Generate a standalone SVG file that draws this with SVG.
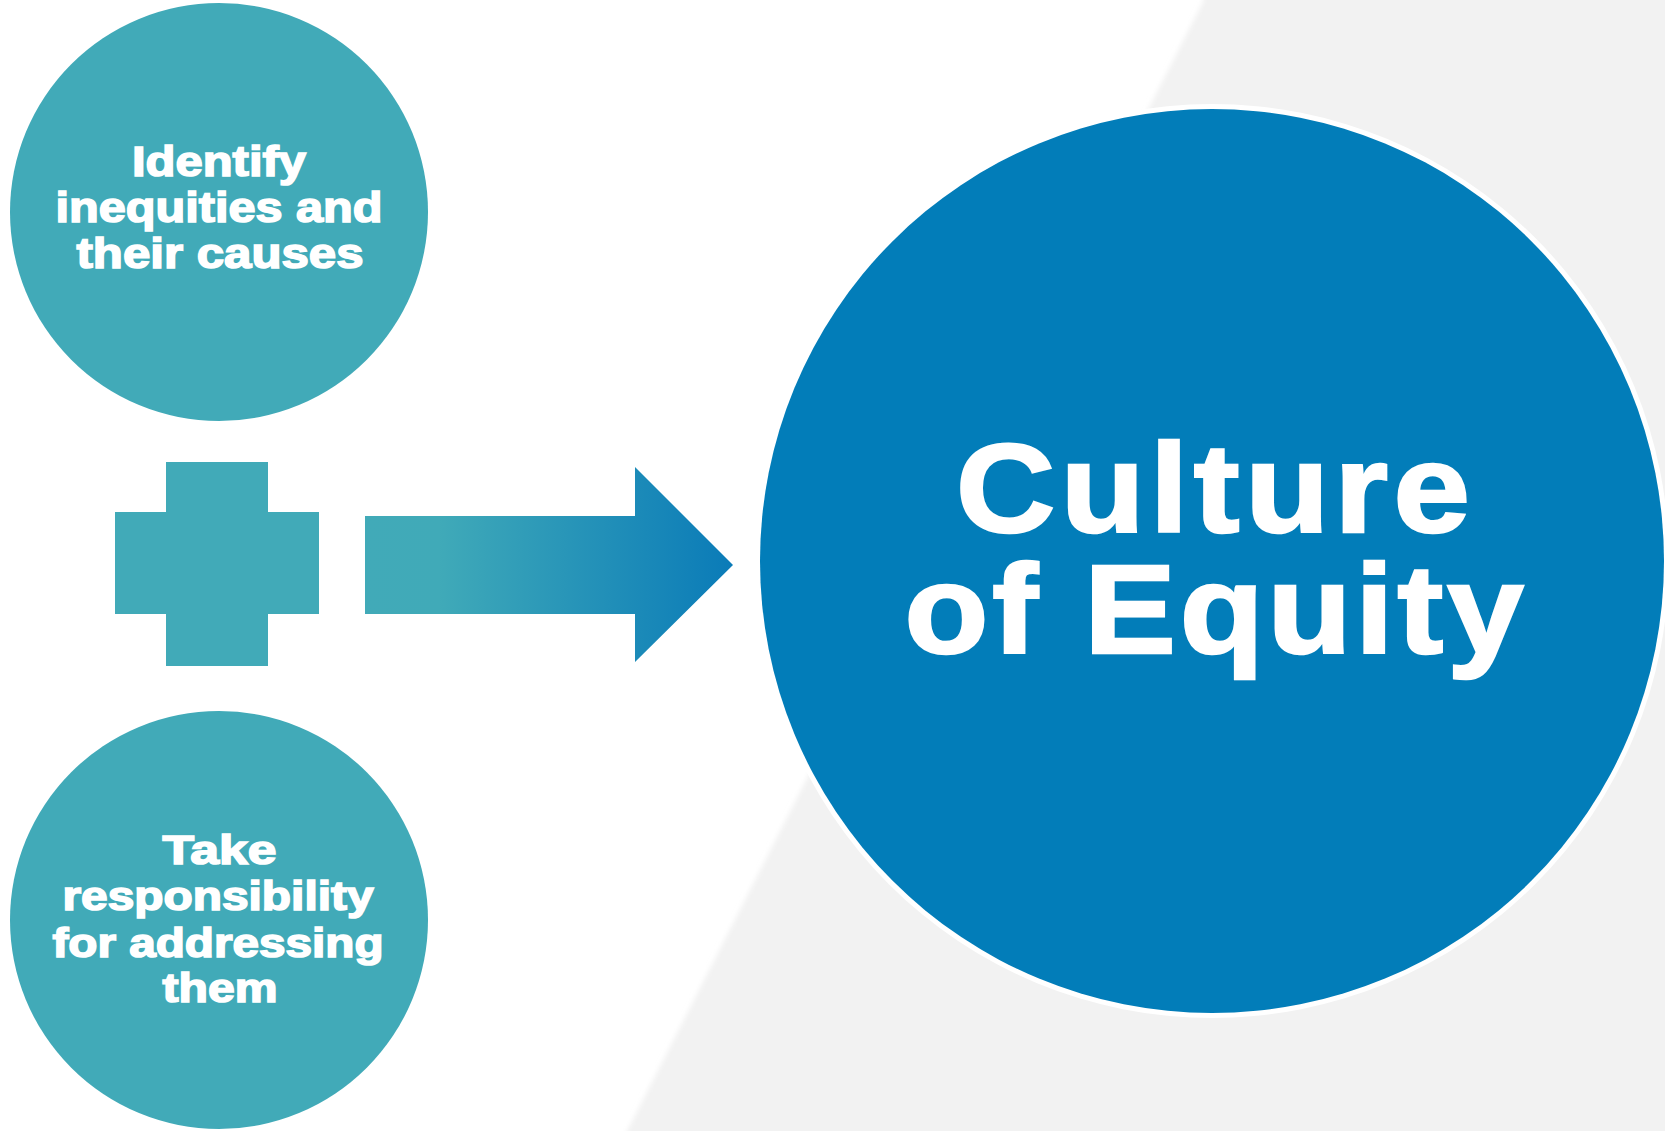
<svg xmlns="http://www.w3.org/2000/svg" width="1665" height="1131" viewBox="0 0 1665 1131">
  <style>
    .teal { fill: #41aab8; }
    .small { font-family: "Liberation Sans", Arial, sans-serif; font-weight: bold; font-size: 42px; fill: #ffffff; stroke: #ffffff; stroke-width: 1.6px; stroke-linejoin: miter; text-anchor: middle; }
    .small2 { font-size: 40px; }
    .big { font-family: "Liberation Sans", Arial, sans-serif; font-weight: bold; font-size: 126px; fill: #ffffff; stroke: #ffffff; stroke-width: 2.6px; stroke-linejoin: miter; text-anchor: middle; }
  </style>
  <defs>
    <linearGradient id="arrowGrad" gradientUnits="userSpaceOnUse" x1="365" y1="0" x2="733" y2="0">
      <stop offset="0" stop-color="#41aab8"/>
      <stop offset="0.2" stop-color="#40aab8"/>
      <stop offset="1" stop-color="#0a7bb8"/>
    </linearGradient>
    <filter id="soft" x="-5%" y="-5%" width="110%" height="110%">
      <feGaussianBlur stdDeviation="2.5"/>
    </filter>
  </defs>

  <rect x="0" y="0" width="1665" height="1131" fill="#ffffff"/>
  <polygon points="1199,-10 1680,-10 1680,1145 620,1145 1204,0" fill="#f2f2f2" filter="url(#soft)"/>

  <g id="node-identify">
    <circle class="teal" cx="219" cy="212" r="209"/>
    <text class="small" x="219" y="176" textLength="174" lengthAdjust="spacingAndGlyphs">Identify</text>
    <text class="small" x="219" y="222" textLength="327" lengthAdjust="spacingAndGlyphs">inequities and</text>
    <text class="small" x="220" y="268" textLength="287" lengthAdjust="spacingAndGlyphs">their causes</text>
  </g>

  <g id="node-plus">
    <rect class="teal" x="166" y="462" width="102" height="204"/>
    <rect class="teal" x="115" y="512" width="204" height="102"/>
  </g>

  <g id="node-take">
    <circle class="teal" cx="219" cy="920" r="209"/>
    <text class="small small2" x="219.5" y="864" textLength="114" lengthAdjust="spacingAndGlyphs">Take</text>
    <text class="small small2" x="218" y="910" textLength="311" lengthAdjust="spacingAndGlyphs">responsibility</text>
    <text class="small small2" x="218" y="957" textLength="331" lengthAdjust="spacingAndGlyphs">for addressing</text>
    <text class="small small2" x="220" y="1002" textLength="115" lengthAdjust="spacingAndGlyphs">them</text>
  </g>

  <g id="connectors">
    <polygon id="arrow" points="365,516 635,516 635,467 733,565 635,662 635,614 365,614" fill="url(#arrowGrad)"/>
  </g>

  <g id="node-culture">
    <circle cx="1212" cy="561" r="457" fill="#ffffff"/>
    <circle cx="1212" cy="561" r="452" fill="#027db9"/>
    <g transform="scale(1.09,1)">
      <text class="big" x="1112.8" y="532" textLength="471.6" lengthAdjust="spacing">Culture</text>
      <text class="big" x="1113.8" y="653" textLength="567.9" lengthAdjust="spacing">of Equity</text>
    </g>
  </g>
</svg>
